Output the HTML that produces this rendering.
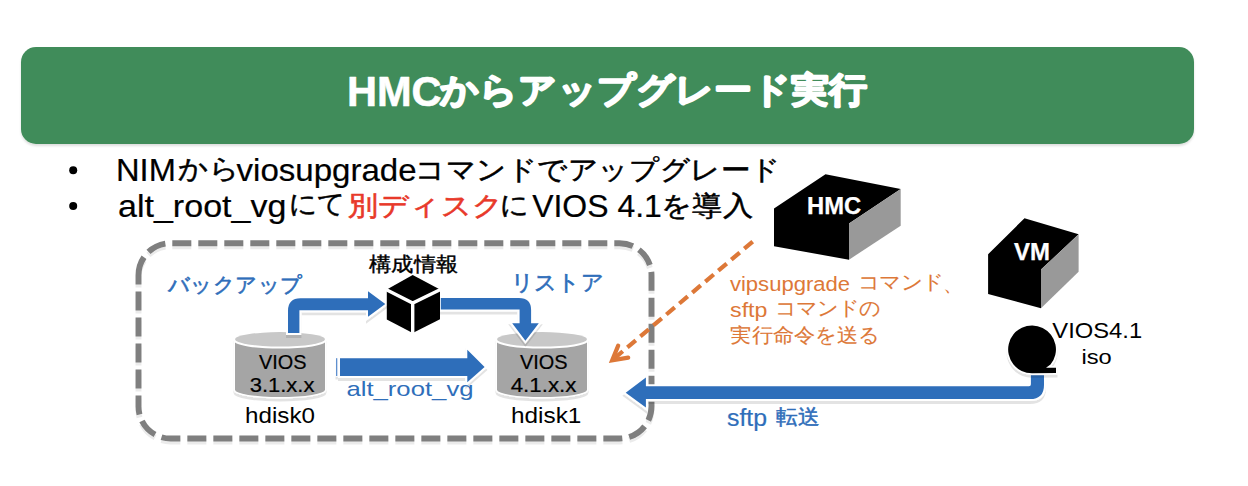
<!DOCTYPE html>
<html><head><meta charset="utf-8">
<style>
html,body{margin:0;padding:0;background:#fff;}
body{width:1248px;height:486px;overflow:hidden;position:relative;font-family:"Liberation Sans",sans-serif;}
svg{position:absolute;left:0;top:0;}
text{font-family:"Liberation Sans",sans-serif;}
</style></head><body>
<svg width="1248" height="486" viewBox="0 0 1248 486">
<defs>
<filter id="sh" x="-5%" y="-5%" width="110%" height="130%">
<feDropShadow dx="0" dy="2" stdDeviation="1" flood-color="#000" flood-opacity="0.13"/>
</filter>
<filter id="ash" x="-10%" y="-10%" width="120%" height="140%">
<feColorMatrix in="SourceAlpha" type="matrix" values="0 0 0 0 0  0 0 0 0 0  0 0 0 0 0  0 0 0 0.11 0"/>
<feOffset dx="0" dy="3.2" result="o"/>
<feGaussianBlur in="o" stdDeviation="0.3" result="b"/>
<feMerge><feMergeNode in="b"/><feMergeNode in="SourceGraphic"/></feMerge>
</filter>
<filter id="csh" x="-10%" y="-10%" width="120%" height="130%">
<feDropShadow dx="0" dy="2.5" stdDeviation="0.7" flood-color="#000" flood-opacity="0.12"/>
</filter>
<filter id="dsh" x="-5%" y="-5%" width="110%" height="110%">
<feColorMatrix in="SourceAlpha" type="matrix" values="0 0 0 0 0  0 0 0 0 0  0 0 0 0 0  0 0 0 0.08 0"/>
<feOffset dx="0" dy="2.6" result="o"/>
<feGaussianBlur in="o" stdDeviation="0.4" result="b"/>
<feMerge><feMergeNode in="b"/><feMergeNode in="SourceGraphic"/></feMerge>
</filter>
</defs>
<!-- green header -->
<rect x="21" y="47" width="1173" height="97" rx="15" ry="15" fill="#418C5A" filter="url(#sh)"/>
<text id="t1" x="347" y="106" font-size="42" font-weight="bold" fill="#fff" stroke="#fff" stroke-width="0.6" stroke-linejoin="round" textLength="94.61" lengthAdjust="spacingAndGlyphs">HMC</text>
<text id="t2" x="440.4" y="102.15" font-size="35" font-weight="bold" fill="#fff" stroke="#fff" stroke-width="2" stroke-linejoin="round" textLength="426.32" lengthAdjust="spacingAndGlyphs">からアップグレード実行</text>

<!-- bullets -->
<circle cx="73.2" cy="170.2" r="4" fill="#000"/>
<circle cx="73.2" cy="206.1" r="4" fill="#000"/>
<text id="r1" x="116" y="181" font-size="31.5" fill="#000" textLength="59.83" lengthAdjust="spacingAndGlyphs" stroke="#000" stroke-width="0.2">NIM</text>
<text id="r2" x="178" y="177.7" font-size="26.5" fill="#000" textLength="61.09" lengthAdjust="spacingAndGlyphs" stroke="#000" stroke-width="0.5">から</text>
<text id="r3" x="236.6" y="181" font-size="31.5" fill="#000" textLength="180" lengthAdjust="spacingAndGlyphs" stroke="#000" stroke-width="0.2">viosupgrade</text>
<text id="r4" x="415" y="179" font-size="26.5" fill="#000" textLength="365.8" lengthAdjust="spacingAndGlyphs" stroke="#000" stroke-width="0.5">コマンドでアップグレード</text>
<text id="r5" x="118" y="216.5" font-size="31.5" fill="#000" textLength="168.4" lengthAdjust="spacingAndGlyphs" stroke="#000" stroke-width="0.2">alt_root_vg</text>
<text id="r6" x="288.8" y="213.05" font-size="26.5" fill="#000" textLength="57.11" lengthAdjust="spacingAndGlyphs" stroke="#000" stroke-width="0.5">にて</text>
<text id="r7" x="348" y="214.7" font-size="26.5" fill="#E8392A" textLength="155.01" lengthAdjust="spacingAndGlyphs" stroke="#E8392A" stroke-width="0.6">別ディスク</text>
<text id="r8" x="499.8" y="213.5" font-size="26.5" fill="#000" textLength="29.13" lengthAdjust="spacingAndGlyphs" stroke="#000" stroke-width="0.5">に</text>
<text id="r9" x="532.2" y="216.5" font-size="31.5" fill="#000" textLength="129.6" lengthAdjust="spacingAndGlyphs" stroke="#000" stroke-width="0.2">VIOS 4.1</text>
<text id="r10" x="661" y="214.7" font-size="26.5" fill="#000" textLength="91.79" lengthAdjust="spacingAndGlyphs" stroke="#000" stroke-width="0.5">を導入</text>

<!-- dashed box -->
<path d="M138.5,275.2 A32,32 0 0 1 170.5,243.2 L619.5,243.2 A32,32 0 0 1 651.5,275.2 L651.5,406.5 A32,32 0 0 1 619.5,438.5 L170.5,438.5 A32,32 0 0 1 138.5,406.5 Z" fill="none" stroke="#7F7F7F" stroke-width="5.9" stroke-dasharray="19 7" filter="url(#dsh)"/>

<!-- labels in box -->
<text id="backup" x="168" y="291.5" font-size="21" fill="#2F6EBA" textLength="134.4" lengthAdjust="spacingAndGlyphs" stroke="#2F6EBA" stroke-width="0.6">バックアップ</text>
<text id="restore" x="510.9" y="289.7" font-size="21.5" fill="#2F6EBA" textLength="93.06" lengthAdjust="spacingAndGlyphs" stroke="#2F6EBA" stroke-width="0.6">リストア</text>
<text id="kosei" x="369" y="271.1" font-size="20" fill="#000" textLength="89.04" lengthAdjust="spacingAndGlyphs" stroke="#000" stroke-width="0.4">構成情報</text>

<!-- cylinders -->
<g filter="url(#ash)" stroke="#fff" paint-order="stroke">
<path d="M235,339.3 A45,7.2 0 0 1 325,339.3 L325,389.8 A45,7.2 0 0 1 235,389.8 Z" fill="#A5A5A5" stroke-width="3"/>
<ellipse cx="280" cy="339.3" rx="45" ry="7.2" fill="#C8C8C8" stroke-width="4.2"/>
<path d="M497,339.3 A45,7.2 0 0 1 587,339.3 L587,389.8 A45,7.2 0 0 1 497,389.8 Z" fill="#A5A5A5" stroke-width="3"/>
<ellipse cx="542" cy="339.3" rx="45" ry="7.2" fill="#C8C8C8" stroke-width="4.2"/>
</g>
<text id="vios1" x="258.9" y="368.5" font-size="20" fill="#000" stroke="#000" stroke-width="0.2" textLength="47.5" lengthAdjust="spacingAndGlyphs">VIOS</text>
<text id="v311" x="249.7" y="392.3" font-size="20" fill="#000" stroke="#000" stroke-width="0.2" textLength="64.79" lengthAdjust="spacingAndGlyphs">3.1.x.x</text>
<text id="vios2" x="520" y="368.5" font-size="20" fill="#000" stroke="#000" stroke-width="0.2" textLength="47.6" lengthAdjust="spacingAndGlyphs">VIOS</text>
<text id="v411" x="510.7" y="392.3" font-size="20" fill="#000" stroke="#000" stroke-width="0.2" textLength="65.71" lengthAdjust="spacingAndGlyphs">4.1.x.x</text>
<text id="hd0" x="245.1" y="422.5" font-size="22" fill="#000" textLength="69.88" lengthAdjust="spacingAndGlyphs">hdisk0</text>
<text id="hd1" x="511" y="423" font-size="22" fill="#000" textLength="70.37" lengthAdjust="spacingAndGlyphs">hdisk1</text>

<!-- blue arrows -->
<g fill="#2F6EBA" stroke="#fff" stroke-width="4" paint-order="stroke" filter="url(#ash)">
<path d="M288,333 L288,310.8 Q288,298.3 300.5,298.3 L368,298.3 L368,291.3 L385.3,304 L368,316.8 L368,310.3 L299.4,310.3 L299.4,333 Z"/>
<path d="M440.8,298 L519,298 Q531.1,298 531.1,310 L531.1,323.3 L538.8,323.3 L525.4,340.8 L512.2,323.3 L519.6,323.3 L519.6,309.5 L440.8,309.5 Z"/>
<rect x="336" y="358.2" width="1.3" height="17.8" fill="#5F90CF" stroke-width="1"/>
<path d="M340,358.2 L467.3,358.2 L467.3,349.8 L484.6,367 L467.3,382.2 L467.3,376 L340,376 Z"/>
<path d="M1044,375.2 L1044,385 Q1044,399.1 1030,399.1 L645.9,399.1 L645.9,407.5 L625.7,392.8 L645.9,377.5 L645.9,386.2 L1029,386.2 Q1030.9,386.2 1030.9,384.3 L1030.9,375.2 Z"/>
</g>

<text id="alt" x="346.4" y="396.3" font-size="21" fill="#2F6EBA" textLength="127.13" lengthAdjust="spacingAndGlyphs">alt_root_vg</text>
<text id="sftp" x="727" y="426" font-size="23" fill="#2F6EBA" textLength="40" lengthAdjust="spacingAndGlyphs" stroke="#2F6EBA" stroke-width="0.2">sftp</text><text id="tenso" x="776.4" y="424.2" font-size="21" fill="#2F6EBA" textLength="43.2" lengthAdjust="spacingAndGlyphs" stroke="#2F6EBA" stroke-width="0.5">転送</text>

<!-- config cube -->
<path d="M412.7,275 L440,289.5 L440,319.3 L412.7,333 L386.8,319.5 L386.8,289.5 Z" fill="#000"/>
<path d="M385,289 L412.7,303 L441.5,289 M412.7,303 L412.7,334" stroke="#fff" stroke-width="3.4" fill="none"/>

<!-- HMC box -->
<path d="M825.5,174.3 L900.7,189 L849,223.5 L774,208.6 Z M774,208.6 L849,223.5 L849,259.7 L774,246.3 Z" fill="#000"/>
<path d="M849,223.5 L900.7,189 L900.7,225.7 L849,259.7 Z" fill="#999"/>
<text id="hmc" x="807.1" y="214" font-size="23" font-weight="bold" fill="#fff" textLength="54.17" lengthAdjust="spacingAndGlyphs" stroke="#fff" stroke-width="0.25">HMC</text>

<!-- VM box -->
<path d="M1024.5,218.2 L1078.6,234.3 L1041,269.6 L988.1,254.2 Z M988.1,254.2 L1041,269.6 L1041,308.3 L988.1,293.9 Z" fill="#000"/>
<path d="M1041,269.6 L1078.6,234.3 L1078.6,271.7 L1041,308.3 Z" fill="#999"/>
<text id="vm" x="1013.9" y="259.8" font-size="23" font-weight="bold" fill="#fff" textLength="35.95" lengthAdjust="spacingAndGlyphs" stroke="#fff" stroke-width="0.25">VM</text>

<!-- iso disc -->
<g filter="url(#ash)" stroke="#fff" stroke-width="3" paint-order="stroke">
<path d="M1032,373.3 A23.9,23.9 0 1 1 1050.5,364.6 L1046,367.8 L1056,367.8 L1056,373.1 Z" fill="#000"/>
</g>
<text id="vios41" x="1052.3" y="337.8" font-size="22" fill="#000" textLength="89.8" lengthAdjust="spacingAndGlyphs">VIOS4.1</text>
<text id="iso" x="1081.4" y="363.9" font-size="21" fill="#000" textLength="30.32" lengthAdjust="spacingAndGlyphs">iso</text>

<!-- orange dashed arrow -->
<g stroke="#DD7838" stroke-width="4.2" fill="none">
<path d="M752.7,241.6 L613,359.5" stroke-dasharray="11 6"/>
<path d="M618.2,345.6 L612.2,360.3 L628.2,357.6" stroke-linecap="round" stroke-linejoin="miter"/>
</g>
<text id="o1a" x="729.9" y="291" font-size="20" fill="#DD7838" textLength="120.21" lengthAdjust="spacingAndGlyphs">vipsupgrade</text><text id="o1b" x="857.6" y="289.05" font-size="20" fill="#DD7838" textLength="85.94" lengthAdjust="spacingAndGlyphs" stroke="#DD7838" stroke-width="0.1">コマンド</text><text id="o1c" x="943" y="291" font-size="20" fill="#DD7838" textLength="20" lengthAdjust="spacingAndGlyphs">、</text>
<text id="o2a" x="730.1" y="317" font-size="20" fill="#DD7838" textLength="37.31" lengthAdjust="spacingAndGlyphs">sftp</text><text id="o2b" x="774.8" y="315.4" font-size="20" fill="#DD7838" textLength="105.59" lengthAdjust="spacingAndGlyphs" stroke="#DD7838" stroke-width="0.1">コマンドの</text>
<text id="o3" x="730.4" y="341.65" font-size="20" fill="#DD7838" textLength="148.81" lengthAdjust="spacingAndGlyphs" stroke="#DD7838" stroke-width="0.1">実行命令を送る</text>
</svg>
</body></html>
